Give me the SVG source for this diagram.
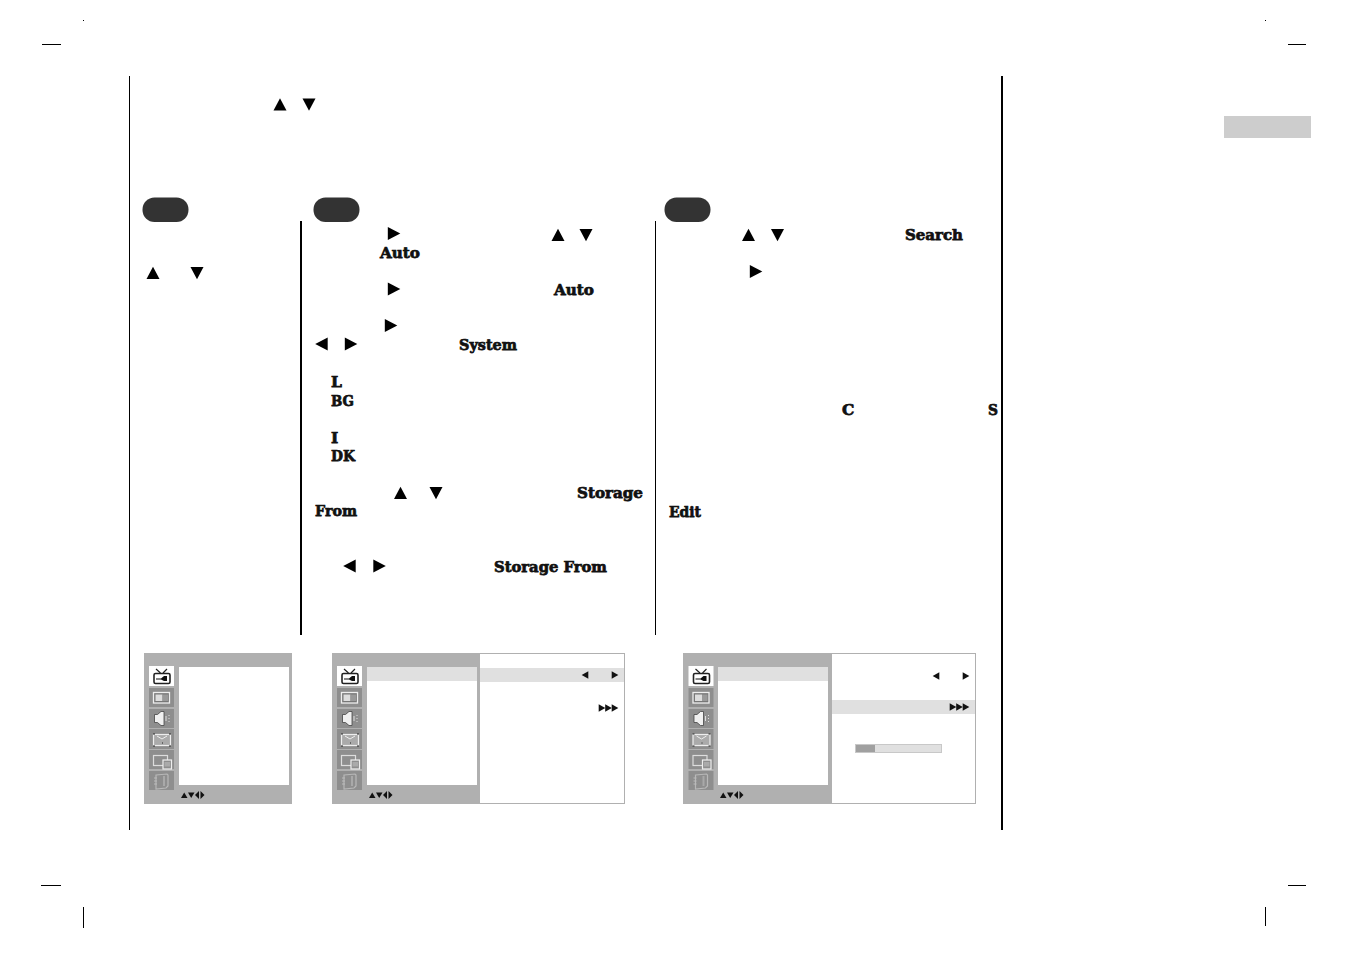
<svg xmlns="http://www.w3.org/2000/svg" width="1351" height="954" viewBox="0 0 1351 954">
<style>
.b{font-family:"DejaVu Serif","Liberation Serif",serif;font-weight:bold;font-size:15.5px;fill:#111;stroke:#111;stroke-width:.75px}
.k{stroke:#000;fill:none}
.g{fill:#b0b0b0}
.c{fill:#8e8e8e}
.h{fill:#e0e0e0}
.w{fill:#fff}
.p{fill:#333}
</style>
<defs>
<polygon id="u" points="-6.500,6 0,-6.200 6.500,6"/>
<polygon id="d" points="-6.500,-6 0,6.200 6.500,-6"/>
<polygon id="r" points="-6.200,-6.500 6.300,0 -6.200,6.500"/>
<polygon id="l" points="6.200,-6.500 -6.300,0 6.200,6.500"/>
<polygon id="sr" points="-3.300,-3.800 3.300,0 -3.300,3.800" fill="#111"/>
<polygon id="sl" points="3.300,-3.800 -3.300,0 3.300,3.800" fill="#111"/>
<g id="icons">
<rect class="w" width="25" height="20"/>
<rect class="c" y="22" width="25" height="19"/>
<rect class="c" y="43" width="25" height="19"/>
<rect class="c" y="63" width="25" height="20"/>
<rect class="c" y="84" width="25" height="19"/>
<rect class="c" y="105" width="25" height="19"/>
<path d="M7 3l4.500 4M18 3l-4 4" stroke="#222" fill="none" stroke-width="1.200"/>
<rect x="5" y="7.500" width="16" height="10" rx="1.500" fill="#fff" stroke="#222" stroke-width="1.600"/>
<path d="M7 12.500h5l3-2.500h3v5h-3l-3-1.500H7z" fill="#111"/>
<rect x="4.500" y="26.500" width="16" height="10.500" fill="#777" stroke="#eee" stroke-width="1.300"/>
<rect x="6.500" y="28.500" width="7" height="6.500" fill="#ddd"/>
<rect x="13.500" y="28.500" width="5.500" height="6.500" fill="#999"/>
<path d="M5.500 48.500h3l3.500-3h3v14h-3l-3.500-3h-3z" fill="#f0f0f0" stroke="#444" stroke-width=".8"/>
<path d="M17 50v5M20 49v1M20 52v1M20 55v1" stroke="#ddd" fill="none"/>
<rect x="4.500" y="68.500" width="17" height="11" fill="#aaa" stroke="#eee" stroke-width="1.200"/>
<path d="M8 70l5 3 5-3" stroke="#eee" fill="none"/>
<path d="M4 68h2M20 68h2M4 80h2M20 80h2M13 77h1" stroke="#222"/>
<rect x="4.500" y="89.500" width="14" height="10" fill="none" stroke="#ddd" stroke-width="1.200"/>
<rect x="14" y="94" width="8.500" height="9" fill="#8e8e8e" stroke="#eee" stroke-width="1.200"/>
<rect x="15.500" y="96" width="5.500" height="4.500" fill="#aaa"/>
<path d="M7 109l11-1 1 1v11l-2 2-10 1z" fill="none" stroke="#b8b8b8" stroke-width="1.200"/>
<path d="M15 110v10" stroke="#a9a9a9" stroke-width="2"/>
<path d="M5 112h3M5 115h3M5 118h3" stroke="#bbb"/>
</g>
<g id="nav" fill="#111">
<polygon points="0,6.500 3.200,1 6.500,6.500"/>
<polygon points="7,1 10.200,6.500 13.500,1"/>
<polygon points="18,-.5 18,7.500 14,3.500"/>
<polygon points="19.500,-.5 19.500,7.500 23.500,3.500"/>
</g>
</defs>
<rect width="1351" height="954" fill="#fff"/>

<g id="crop-marks" stroke="#000">
<path d="M42 44.500h19M41 885.500h20M1288 44.500h18M1288 885.500h18M83.500 907v21M1265.500 907v19" class="k"/>
<rect x="83" y="20" width="1" height="1" fill="#000" stroke="none"/>
<rect x="1265" y="20" width="1" height="1" fill="#000" stroke="none"/>
</g>
<rect id="tab" x="1224" y="116" width="87" height="22" fill="#cdcdcd"/>

<g id="rules">
<path class="k" d="M129.500 76v754M655.500 221v414"/>
<path class="k" stroke-width="2" d="M1002 76v754M301 221v414"/>
</g>

<g id="step-pills">
<rect class="p" x="142.500" y="197.500" width="46" height="24.500" rx="12"/>
<rect class="p" x="313.500" y="197.500" width="46" height="24.500" rx="12"/>
<rect class="p" x="664.500" y="197.500" width="46" height="24.500" rx="12"/>
</g>

<g id="arrows">
<use href="#u" x="280" y="104.500"/><use href="#d" x="309" y="104.500"/>
<use href="#u" x="153" y="273"/><use href="#d" x="197" y="273"/>
<use href="#r" x="394" y="233.500"/><use href="#u" x="558" y="235"/><use href="#d" x="586" y="235"/>
<use href="#r" x="394" y="289"/>
<use href="#r" x="391" y="325.500"/>
<use href="#l" x="321.500" y="344"/><use href="#r" x="351" y="344"/>
<use href="#u" x="400.500" y="493"/><use href="#d" x="436" y="493"/>
<use href="#l" x="349.500" y="566"/><use href="#r" x="379.500" y="566"/>
<use href="#u" x="748.500" y="235"/><use href="#d" x="777.500" y="235"/>
<use href="#r" x="756" y="271.500"/>
</g>

<g id="labels">
<text class="b" x="380" y="258" textLength="40" lengthAdjust="spacingAndGlyphs">Auto</text>
<text class="b" x="554" y="295" textLength="40" lengthAdjust="spacingAndGlyphs">Auto</text>
<text class="b" x="459" y="350" textLength="58" lengthAdjust="spacingAndGlyphs">System</text>
<text class="b" x="331" y="387">L</text>
<text class="b" x="331" y="406" textLength="23" lengthAdjust="spacingAndGlyphs">BG</text>
<text class="b" x="331" y="443">I</text>
<text class="b" x="331" y="461" textLength="24" lengthAdjust="spacingAndGlyphs">DK</text>
<text class="b" x="577" y="498" textLength="66" lengthAdjust="spacingAndGlyphs">Storage</text>
<text class="b" x="315" y="516" textLength="42" lengthAdjust="spacingAndGlyphs">From</text>
<text class="b" x="494" y="572" textLength="113" lengthAdjust="spacingAndGlyphs">Storage From</text>
<text class="b" x="905" y="240" textLength="58" lengthAdjust="spacingAndGlyphs">Search</text>
<text class="b" x="842" y="415">C</text>
<text class="b" x="988" y="415" textLength="10" lengthAdjust="spacingAndGlyphs">S</text>
<text class="b" x="669" y="517" textLength="32" lengthAdjust="spacingAndGlyphs">Edit</text>
</g>

<g id="menu-1">
<rect class="g" x="144" y="653" width="148" height="151"/>
<rect class="w" x="179" y="667" width="110" height="118"/>
<use href="#icons" x="149" y="666"/>
<use href="#nav" x="181" y="791.500"/>
</g>

<g id="menu-2">
<rect x="332.500" y="653.500" width="292" height="150" fill="#fff" stroke="#b0b0b0"/>
<rect class="g" x="332" y="653" width="148" height="151"/>
<rect class="w" x="367" y="667" width="110" height="118"/>
<rect class="h" x="367" y="667" width="110" height="14"/>
<rect class="h" x="480" y="668" width="144" height="14"/>
<use href="#icons" x="337" y="666"/>
<use href="#nav" x="369" y="791.500"/>
<use href="#sl" x="585" y="675"/><use href="#sr" x="615" y="675"/>
<use href="#sr" x="602" y="708"/><use href="#sr" x="608.500" y="708"/><use href="#sr" x="615" y="708"/>
</g>

<g id="menu-3">
<rect x="683.500" y="653.500" width="292" height="150" fill="#fff" stroke="#b0b0b0"/>
<rect class="g" x="683" y="653" width="149" height="151"/>
<rect class="w" x="718" y="667" width="110" height="118"/>
<rect class="h" x="718" y="667" width="110" height="14"/>
<rect class="h" x="832" y="700" width="143" height="14"/>
<use href="#icons" x="688.500" y="666"/>
<use href="#nav" x="720" y="791.500"/>
<use href="#sl" x="936" y="676"/><use href="#sr" x="966" y="676"/>
<use href="#sr" x="953" y="707"/><use href="#sr" x="959.500" y="707"/><use href="#sr" x="966" y="707"/>
<rect class="h" x="855.500" y="744.500" width="86" height="8" stroke="#c8c8c8"/>
<rect x="856" y="745" width="19" height="7" fill="#a0a0a0"/>
</g>
</svg>
